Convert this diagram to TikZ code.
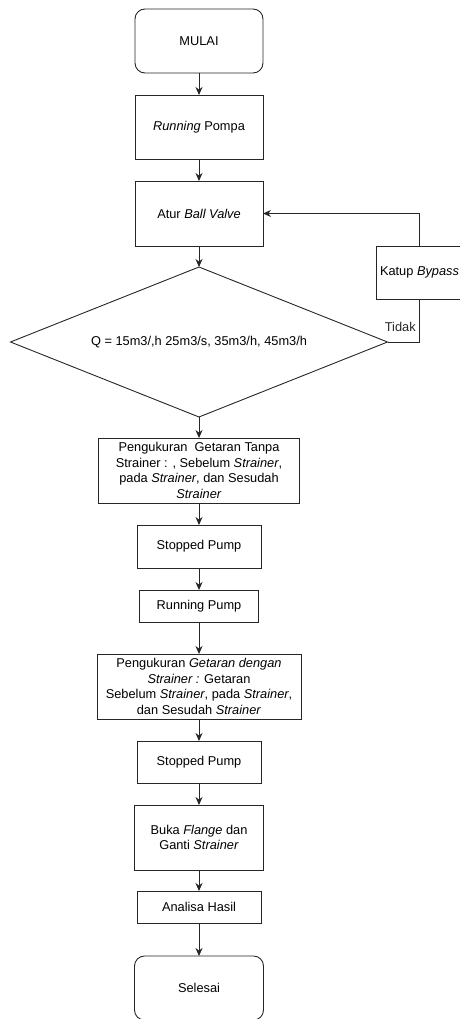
\documentclass[tikz,border=0pt]{standalone}
\usepackage{fontspec}
\setmainfont{Liberation Sans}
\usetikzlibrary{positioning,arrows.meta,shapes.geometric}

\begin{document}
\begin{tikzpicture}[x=1pt,y=1pt,
        node distance=22pt,
        box/.style={rectangle,draw=black!85,line width=0.9pt,outer sep=0pt,align=center,inner sep=0pt,font=\fontsize{12.8}{15.5}\selectfont},
        terminal/.style={box,rounded corners=10pt,minimum width=128pt,minimum height=64pt},
        decision/.style={diamond,draw=black!85,line width=0.9pt,outer sep=0pt,align=center,inner sep=0pt,aspect=2.5,minimum width=377pt,minimum height=150pt,font=\fontsize{12.8}{15.5}\selectfont},
        arrow/.style={-{Stealth[length=8pt,width=7pt]},black!85,line width=0.9pt}]
        \useasboundingbox (0,0) rectangle (460,-1019);
        \node[terminal] (mulai) at (199,-41) {MULAI};
        \node[box,minimum width=128pt,minimum height=64pt,below=of mulai] (run) {\textit{Running} Pompa};
        \node[box,minimum width=128pt,minimum height=65pt,below=of run] (atur) {Atur \textit{Ball Valve}};
        \node[decision,below=21pt of atur] (debit) {Q = 15m3/,h 25m3/s, 35m3/h, 45m3/h};
        \node[box,minimum width=201pt,minimum height=65pt,below=21pt of debit] (ukur1) {Pengukuran\ \ Getaran Tanpa\\ Strainer : , Sebelum \textit{Strainer},\\ pada \textit{Strainer}, dan Sesudah\\ \textit{Strainer}};
        \node[box,minimum width=124pt,minimum height=43pt,below=of ukur1] (stop1) {Stopped Pump};
        \node[box,minimum width=119pt,minimum height=32pt,below=of stop1] (jalan) {Running Pump};
        \node[box,minimum width=204pt,minimum height=65pt,below=32pt of jalan] (ukur2) {Pengukuran \textit{Getaran dengan}\\ \textit{Strainer :} Getaran\\ Sebelum \textit{Strainer}, pada \textit{Strainer},\\ dan Sesudah \textit{Strainer}};
        \node[box,minimum width=124pt,minimum height=42pt,below=of ukur2] (stop2) {Stopped Pump};
        \node[box,minimum width=129pt,minimum height=65pt,below=of stop2] (buka) {Buka \textit{Flange} dan\\ Ganti \textit{Strainer}};
        \node[box,minimum width=124pt,minimum height=32pt,below=21pt of buka] (analisa) {Analisa Hasil};
        \node[terminal,minimum width=129pt,below=33pt of analisa] (selesai) {Selesai};
        \node[box,minimum width=86pt,minimum height=53pt] (bypass) at (419.5,-272.5) {Katup \textit{Bypass}};
        % alur utama
        \draw[arrow] (mulai) -- (run);
        \draw[arrow] (run) -- (atur);
        \draw[arrow] (atur) -- (debit);
        \draw[arrow] (debit) -- (ukur1);
        \draw[arrow] (ukur1) -- (stop1);
        \draw[arrow] (stop1) -- (jalan);
        \draw[arrow] (jalan) -- (ukur2);
        \draw[arrow] (ukur2) -- (stop2);
        \draw[arrow] (stop2) -- (buka);
        \draw[arrow] (buka) -- (analisa);
        \draw[arrow] (analisa) -- (selesai);
        % jalur bypass
        \draw[black!85,line width=0.9pt] (debit.east) -| node[pos=0.5,above left,yshift=7pt,font=\fontsize{12.8}{15.5}\selectfont]{Tidak} (bypass.south);
        \draw[arrow] (bypass.north) |- (atur.east);
    \end{tikzpicture}
\end{document}
